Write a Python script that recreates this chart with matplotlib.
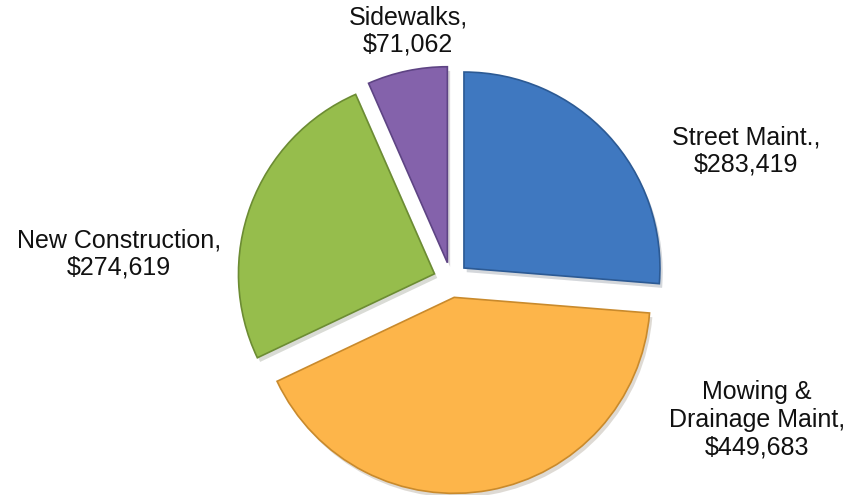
import matplotlib.pyplot as plt
import matplotlib.patheffects as pe

# Street maintenance budget split
categories = ['Street Maint.', 'Mowing &\nDrainage Maint', 'New Construction', 'Sidewalks']
amounts = [283419, 449683, 274619, 71062]
colors = ['#3f78c0', '#fdb54a', '#96bd4c', '#8462ab']
edges = ['#2c5a94', '#c98a2c', '#6c8c33', '#5e4484']

plt.rcParams['font.family'] = ['Liberation Sans', 'DejaVu Sans']

W, H = 849, 495
fig = plt.figure(figsize=(W / 100, H / 100), dpi=100)
ax = fig.add_axes([0, 0, 1, 1])

wedges, _ = ax.pie(amounts, startangle=90, counterclock=False,
                   explode=[0.09] * len(amounts), colors=colors,
                   wedgeprops=dict(linewidth=1.2))
for w, ec in zip(wedges, edges):
    w.set_edgecolor(ec)
    w.set_path_effects([pe.SimplePatchShadow(offset=(2, -3), alpha=0.18),
                        pe.Normal()])

# pie centre and radius in pixels, one data unit = one radius
# (limits set after pie() because pie resets them)
cx, cy, R = 451, 215, 196
ax.set_xlim(-cx / R, (W - cx) / R)
ax.set_ylim(-cy / R, (H - cy) / R)
ax.set_aspect('equal')
ax.axis('off')

# data labels, placed outside the slices
label_pos = [(746, 151), (757, 420), (119, 254), (408, 31)]
for name, val, (px, py) in zip(categories, amounts, label_pos):
    fig.text(px / W, 1 - py / H, f'{name},\n${val:,}', ha='center', va='center',
             fontsize=18, linespacing=1.2, color='#111111')

fig.savefig('out.png', dpi=100, facecolor='white')
